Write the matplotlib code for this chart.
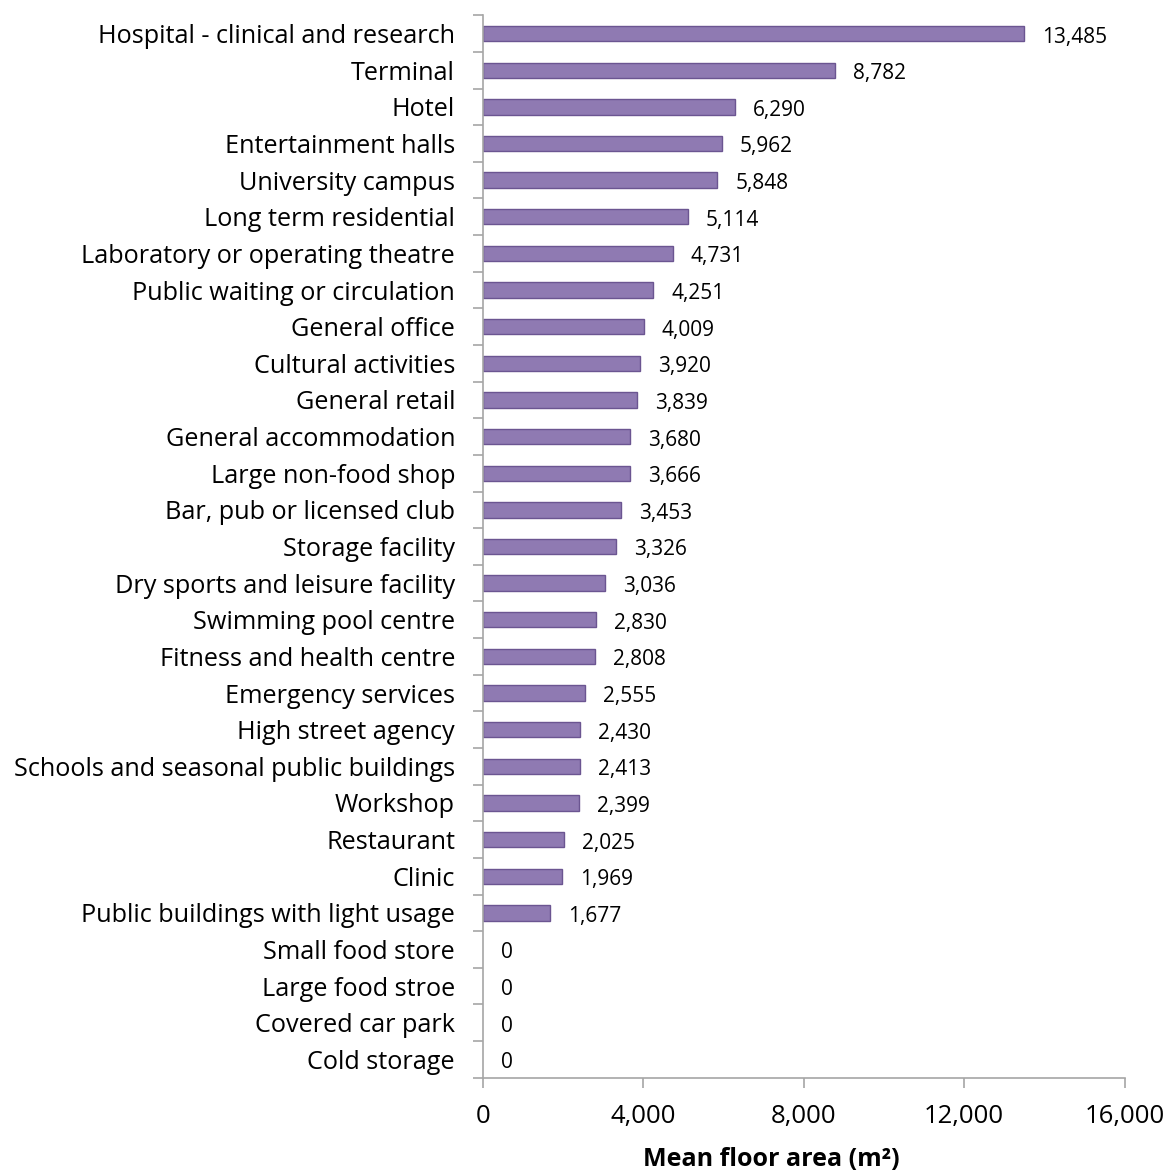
import matplotlib.pyplot as plt
from matplotlib.ticker import FuncFormatter, FixedLocator

plt.rcParams['font.family'] = ['Open Sans', 'DejaVu Sans']

# Building categories and mean floor area (m2), top to bottom
categories = [
    'Hospital - clinical and research', 'Terminal', 'Hotel', 'Entertainment halls',
    'University campus', 'Long term residential', 'Laboratory or operating theatre',
    'Public waiting or circulation', 'General office', 'Cultural activities',
    'General retail', 'General accommodation', 'Large non-food shop',
    'Bar, pub or licensed club', 'Storage facility', 'Dry sports and leisure facility',
    'Swimming pool centre', 'Fitness and health centre', 'Emergency services',
    'High street agency', 'Schools and seasonal public buildings', 'Workshop',
    'Restaurant', 'Clinic', 'Public buildings with light usage', 'Small food store',
    'Large food stroe', 'Covered car park', 'Cold storage',
]
floor_area = [
    13485, 8782, 6290, 5962, 5848, 5114, 4731, 4251, 4009, 3920, 3839, 3680, 3666,
    3453, 3326, 3036, 2830, 2808, 2555, 2430, 2413, 2399, 2025, 1969, 1677, 0, 0, 0, 0,
]
x_ticks = [0, 4000, 8000, 12000, 16000]

fig = plt.figure(figsize=(11.69, 11.74), dpi=100)
ax = fig.add_axes([0.413, 0.082, 0.549, 0.905])

n = len(categories)
ypos = list(range(n))
edge_w = [1 if v > 0 else 0 for v in floor_area]
ax.barh(ypos, floor_area, height=0.42, color='#8F7AB2', edgecolor='#6B5591', linewidth=edge_w)

for y, v in zip(ypos, floor_area):
    ax.annotate(f'{v:,}', xy=(v, y), xytext=(13, -2.5), textcoords='offset points',
                va='center', ha='left', fontsize=15, color='black')

ax.set_ylim(n - 0.5, -0.5)
ax.set_xlim(0, 16000)

# category names sit between the tick marks on the vertical axis
ax.set_yticks(ypos)
ax.set_yticklabels(categories, fontsize=18.2)
ax.tick_params(axis='y', length=0, pad=20)
ax.yaxis.set_minor_locator(FixedLocator([i - 0.5 for i in range(n + 1)]))
ax.tick_params(axis='y', which='minor', length=7, color='#A6A6A6', width=1.2)

ax.set_xticks(x_ticks)
ax.xaxis.set_major_formatter(FuncFormatter(lambda v, p: f'{int(v):,}'))
ax.tick_params(axis='x', length=7, color='#A6A6A6', width=1.2, labelsize=18.5, pad=12)

for side in ['top', 'right']:
    ax.spines[side].set_visible(False)
for side in ['left', 'bottom']:
    ax.spines[side].set_color('#A6A6A6')
    ax.spines[side].set_linewidth(1.2)

ax.set_xlabel('Mean floor area (m²)', fontsize=18, fontweight='bold')
ax.xaxis.set_label_coords(0.449, -0.065)

fig.savefig('out.png', dpi=100)
